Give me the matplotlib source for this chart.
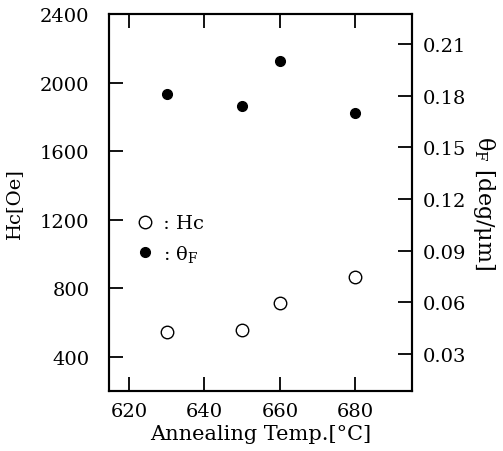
import matplotlib.pyplot as plt

# annealing temperatures [deg C]
temps = [630, 650, 660, 680]
# coercive force Hc [Oe] (open circles, left axis)
hc_values = [546, 558, 715, 867]
# Faraday rotation theta_F [deg/um] (filled circles, right axis)
theta_values = [0.181, 0.174, 0.200, 0.170]

x_ticks = [620, 640, 660, 680]
hc_ticks = [400, 800, 1200, 1600, 2000, 2400]
theta_ticks = [0.03, 0.06, 0.09, 0.12, 0.15, 0.18, 0.21]

plt.rcParams['font.family'] = ['DejaVu Serif']
plt.rcParams['mathtext.fontset'] = 'dejavuserif'

fig = plt.figure(figsize=(5.03, 4.52), dpi=100)
ax = fig.add_axes([0.2167, 0.1327, 0.6023, 0.8341])
ax2 = ax.twinx()

hc_line, = ax.plot(temps, hc_values, linestyle='none', marker='o', markersize=9,
                   markerfacecolor='white', markeredgecolor='black', markeredgewidth=1.0)
th_line, = ax2.plot(temps, theta_values, linestyle='none', marker='o', markersize=7,
                    markerfacecolor='black', markeredgecolor='black')

ax.set_xlim(614.7, 695)
ax.set_ylim(200, 2400)
ax2.set_ylim(0.0085, 0.2274)

ax.set_xticks(x_ticks)
ax.set_yticks(hc_ticks)
ax2.set_yticks(theta_ticks)
ax2.set_yticklabels([f"{t:.2f}" for t in theta_ticks])

for a in (ax, ax2):
    for s in a.spines.values():
        s.set_linewidth(1.5)

ax.tick_params(axis='x', direction='in', length=10, width=1.3, top=True,
               labelsize=14, pad=8)
ax.tick_params(axis='y', direction='in', length=10, width=1.3, right=False,
               labelsize=14, pad=14)
ax2.tick_params(axis='y', direction='in', length=10, width=1.3, labelsize=14, pad=8)

ax.set_xlabel("Annealing Temp.[°C]", fontsize=15, labelpad=3)
ax.set_ylabel("Hc[Oe]", fontsize=14, labelpad=12)
ax2.set_ylabel(r"$\mathrm{\theta_F}$ [deg/$\mathrm{\mu}$m]", fontsize=16,
               rotation=270, labelpad=22)

ax.legend([hc_line, th_line], [" : Hc", r" : $\mathrm{\theta_F}$"], loc='upper left',
          bbox_to_anchor=(0.03, 0.515), frameon=False, fontsize=14,
          handletextpad=0.1, labelspacing=0.55, handlelength=1.0)

fig.savefig("out.png", dpi=100)
